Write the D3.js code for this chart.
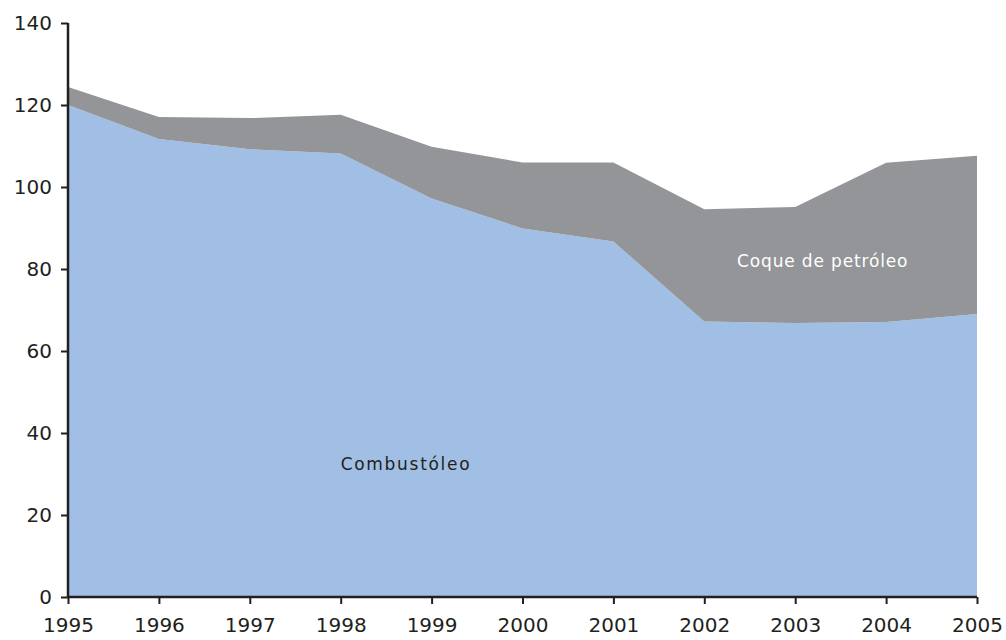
<!DOCTYPE html>
<html>
<head>
<meta charset="utf-8">
<script src="https://cdn.jsdelivr.net/npm/d3@7"></script>
<style>
  body { margin: 0; background: #fff; }
  svg text { font-family: "DejaVu Sans", sans-serif; }
</style>
</head>
<body>
<svg id="chart" width="1006" height="640"></svg>
<script>
// ── data ─────────────────────────────────────────────────────
const years = [1995, 1996, 1997, 1998, 1999, 2000, 2001, 2002, 2003, 2004, 2005];
const combustoleo = [120, 111.7, 109.2, 108.2, 97.2, 89.9, 86.7, 67.2, 66.8, 67.1, 69.0];
const coque = [4.4, 5.4, 7.6, 9.4, 12.6, 16.1, 19.3, 27.4, 28.3, 38.8, 38.6];
const yTicks = [0, 20, 40, 60, 80, 100, 120, 140];

const W = 1006, H = 640;
const m = { left: 68, right: 29, top: 23, bottom: 43 };

const rows = years.map((y, i) => ({ year: y, comb: combustoleo[i], coque: coque[i] }));
const stack = d3.stack().keys(['comb', 'coque'])(rows);
const colors = { comb: '#a1bfe4', coque: '#939598' };

const x = d3.scaleLinear().domain([1995, 2005]).range([m.left, W - m.right]);
const y = d3.scaleLinear().domain([0, 140]).range([H - m.bottom, m.top]);

const svg = d3.select('#chart');

const area = d3.area()
  .x(d => x(d.data.year)).y0(d => y(d[0])).y1(d => y(d[1]));

stack.forEach(layer => {
  svg.append('path').datum(layer).attr('fill', colors[layer.key]).attr('d', area);
});

// axes
const yAxis = svg.append('g').attr('transform', `translate(${m.left},0)`)
  .call(d3.axisLeft(y).tickValues(yTicks).tickSize(7).tickPadding(9));
const xAxis = svg.append('g').attr('transform', `translate(0,${H - m.bottom})`)
  .call(d3.axisBottom(x).tickValues(years).tickFormat(d3.format('d')).tickSize(7).tickPadding(14));

[yAxis, xAxis].forEach(g => {
  g.attr('font-size', 20).attr('font-family', '"DejaVu Sans", sans-serif');
  g.select('.domain').attr('stroke', '#231f20').attr('stroke-width', 2.5);
  g.selectAll('.tick line').attr('stroke', '#231f20').attr('stroke-width', 2);
  g.selectAll('.tick text').attr('fill', '#231f20');
});
yAxis.select('.domain').attr('d', `M0,${y(140)}V${y(0)}`);
xAxis.select('.domain').attr('d', `M${x(1995)},0H${x(2005)}`);

// labels
svg.append('text').attr('x', x(1998)).attr('y', y(31))
  .attr('font-size', 17).attr('fill', '#231f20').attr('letter-spacing', '0.1em')
  .text('Combustóleo');
svg.append('text').attr('x', x(2002.36)).attr('y', y(80.5))
  .attr('font-size', 17).attr('fill', '#ffffff').attr('letter-spacing', '0.05em')
  .text('Coque de petróleo');
</script>
</body>
</html>
